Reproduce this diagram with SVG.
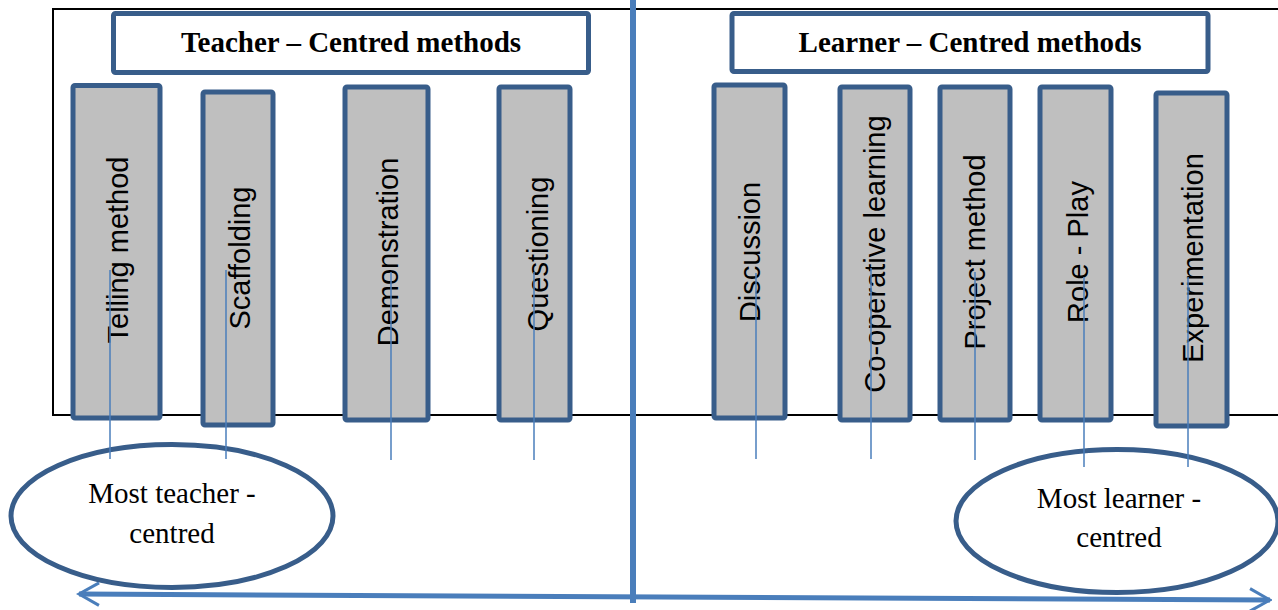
<svg xmlns="http://www.w3.org/2000/svg" width="1278" height="610" viewBox="0 0 1278 610">
<style>
.box{fill:#bfbfbf;stroke:#385d8a;stroke-width:5}
.title{fill:#ffffff;stroke:#385d8a;stroke-width:5}
.ell{fill:#ffffff;stroke:#385d8a;stroke-width:5}
.thin{stroke:#4a7ebb;stroke-width:1.5;fill:none}
.lbl{font-family:"Liberation Sans",Arial,sans-serif;font-size:29px;fill:#000;text-anchor:middle}
.ttl{font-family:"Liberation Serif","Times New Roman",serif;font-size:29px;font-weight:bold;fill:#000;text-anchor:middle}
.etx{font-family:"Liberation Serif","Times New Roman",serif;font-size:29px;fill:#000;text-anchor:middle}
</style>
<defs>
<marker id="chev" viewBox="0 0 10 10" refX="9" refY="5" markerWidth="5" markerHeight="5" markerUnits="strokeWidth" orient="auto-start-reverse">
<path d="M1,0.5 L9,5 L1,9.5" fill="none" stroke="#4a7ebb" stroke-width="1.2"/>
</marker>
</defs>
<rect x="0" y="0" width="1278" height="610" fill="#ffffff"/>
<rect x="53" y="9" width="1240" height="406" fill="none" stroke="#000" stroke-width="2"/>

<g id="teacher-title">
<rect class="title" x="113.5" y="13.5" width="475" height="59" rx="2"/>
<text class="ttl" x="351" y="52">Teacher – Centred methods</text>
</g>
<g id="learner-title">
<rect class="title" x="732" y="13.5" width="476" height="58" rx="2"/>
<text class="ttl" x="970" y="52">Learner – Centred methods</text>
</g>

<g id="telling">
<rect class="box" x="73" y="85.5" width="87" height="332.5" rx="2"/>
<text class="lbl" transform="translate(128,250) rotate(-90)">Telling method</text>
</g>
<g id="scaffolding">
<rect class="box" x="203" y="92" width="70" height="333" rx="2"/>
<text class="lbl" transform="translate(250,258) rotate(-90)">Scaffolding</text>
</g>
<g id="demonstration">
<rect class="box" x="345" y="87" width="83" height="333" rx="2"/>
<text class="lbl" transform="translate(398,252) rotate(-90)">Demonstration</text>
</g>
<g id="questioning">
<rect class="box" x="499" y="87" width="71" height="333" rx="2"/>
<text class="lbl" transform="translate(548,254) rotate(-90)">Questioning</text>
</g>
<g id="discussion">
<rect class="box" x="714" y="85" width="71" height="333" rx="2"/>
<text class="lbl" transform="translate(760,252) rotate(-90)">Discussion</text>
</g>
<g id="cooperative">
<rect class="box" x="840" y="87" width="70" height="333" rx="2"/>
<text class="lbl" transform="translate(885,254) rotate(-90)">Co-operative learning</text>
</g>
<g id="project">
<rect class="box" x="940" y="87" width="70" height="333" rx="2"/>
<text class="lbl" transform="translate(985,252) rotate(-90)">Project method</text>
</g>
<g id="roleplay">
<rect class="box" x="1040" y="87" width="71" height="333" rx="2"/>
<text class="lbl" transform="translate(1088,252) rotate(-90)">Role - Play</text>
</g>
<g id="experimentation">
<rect class="box" x="1156" y="93" width="71" height="333" rx="2"/>
<text class="lbl" transform="translate(1203,258) rotate(-90)">Experimentation</text>
</g>

<g id="most-teacher">
<ellipse class="ell" cx="172" cy="516" rx="161" ry="71.5"/>
<text class="etx" x="172" y="503">Most teacher -</text>
<text class="etx" x="172" y="543">centred</text>
</g>
<g id="most-learner">
<ellipse class="ell" cx="1117" cy="521" rx="161" ry="71.5"/>
<text class="etx" x="1119" y="508">Most learner -</text>
<text class="etx" x="1119" y="547">centred</text>
</g>

<g id="connectors">
<line class="thin" x1="110" y1="270" x2="110" y2="459"/>
<line class="thin" x1="226" y1="270" x2="226" y2="459"/>
<line class="thin" x1="391" y1="272" x2="391" y2="460"/>
<line class="thin" x1="534" y1="272" x2="534" y2="460"/>
<line class="thin" x1="756" y1="273" x2="756" y2="459"/>
<line class="thin" x1="871" y1="268" x2="871" y2="459"/>
<line class="thin" x1="975" y1="272" x2="975" y2="460"/>
<line class="thin" x1="1084" y1="277" x2="1084" y2="467"/>
<line class="thin" x1="1188" y1="277" x2="1188" y2="467"/>
<line x1="79" y1="594" x2="1270" y2="600" stroke="#4a7ebb" stroke-width="5" marker-start="url(#chev)" marker-end="url(#chev)"/>
<line x1="633" y1="0" x2="633" y2="603" stroke="#4a7ebb" stroke-width="6"/>
</g>
</svg>
